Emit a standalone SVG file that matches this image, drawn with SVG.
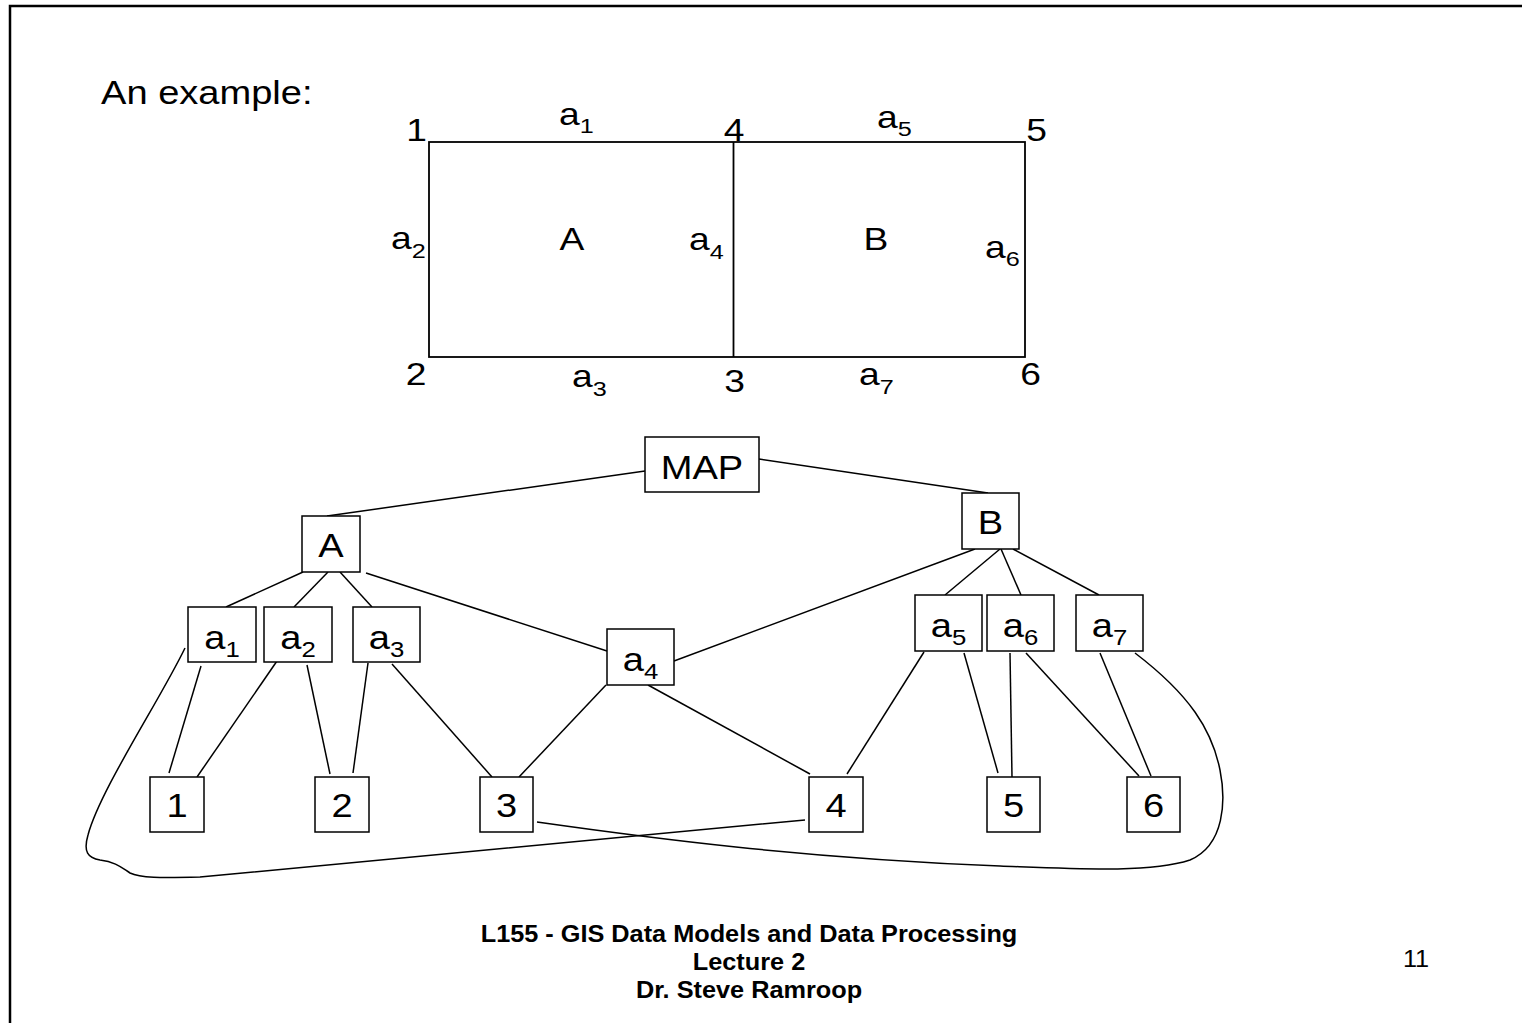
<svg xmlns="http://www.w3.org/2000/svg" width="1522" height="1023" viewBox="0 0 1522 1023">
<style>
.t{font-family:"Liberation Sans",Arial,sans-serif;font-size:34px;fill:#000}
.m{font-family:"Liberation Sans",Arial,sans-serif;font-size:31px;fill:#000}
.sub{font-size:23px}
.msub{font-size:21px}
.f{font-family:"Liberation Sans",Arial,sans-serif;font-size:23px;font-weight:bold;fill:#000}
.pg{font-family:"Liberation Sans",Arial,sans-serif;font-size:23px;fill:#000}
.box{fill:#fff;stroke:#000;stroke-width:1.5}
.ln{stroke:#000;stroke-width:1.5;fill:none}
.map{fill:none;stroke:#000;stroke-width:1.8}
</style>
<rect width="1522" height="1023" fill="#fff"/>
<path d="M10,1023 V6 H1522" fill="none" stroke="#000" stroke-width="2.5"/>

<text class="t" transform="translate(101,104) scale(1.12,1)">An example:</text>

<g id="map">
<rect class="map" x="429" y="142" width="596" height="215"/>
<line class="map" x1="733.5" y1="142" x2="733.5" y2="357"/>
<g text-anchor="middle">
<text class="m" transform="translate(416.5,141) scale(1.2,1)">1</text>
<text class="m" transform="translate(734,141) scale(1.2,1)">4</text>
<text class="m" transform="translate(1036.5,141) scale(1.2,1)">5</text>
<text class="m" transform="translate(416,385) scale(1.2,1)">2</text>
<text class="m" transform="translate(734.5,392) scale(1.2,1)">3</text>
<text class="m" transform="translate(1030.5,385) scale(1.2,1)">6</text>
<text class="m" transform="translate(572,250) scale(1.2,1)">A</text>
<text class="m" transform="translate(876,250) scale(1.2,1)">B</text>
</g>
<text class="m" transform="translate(559,125) scale(1.2,1)">a<tspan class="msub" dy="8">1</tspan></text>
<text class="m" transform="translate(877,128) scale(1.2,1)">a<tspan class="msub" dy="8">5</tspan></text>
<text class="m" transform="translate(391,249) scale(1.2,1)">a<tspan class="msub" dy="9">2</tspan></text>
<text class="m" transform="translate(689,250) scale(1.2,1)">a<tspan class="msub" dy="9">4</tspan></text>
<text class="m" transform="translate(985,258) scale(1.2,1)">a<tspan class="msub" dy="8">6</tspan></text>
<text class="m" transform="translate(572,387) scale(1.2,1)">a<tspan class="msub" dy="9">3</tspan></text>
<text class="m" transform="translate(859,385) scale(1.2,1)">a<tspan class="msub" dy="9">7</tspan></text>
</g>

<g id="connectors">
<line class="ln" x1="327" y1="516" x2="645" y2="471"/>
<line class="ln" x1="759" y1="459" x2="988" y2="493"/>
<line class="ln" x1="303" y1="572" x2="226" y2="607"/>
<line class="ln" x1="328" y1="572" x2="294" y2="607"/>
<line class="ln" x1="340" y1="572" x2="372" y2="607"/>
<line class="ln" x1="366" y1="573" x2="607" y2="651"/>
<line class="ln" x1="975" y1="549" x2="674" y2="661"/>
<line class="ln" x1="1000" y1="549" x2="945" y2="595"/>
<line class="ln" x1="1001" y1="549" x2="1021" y2="595"/>
<line class="ln" x1="1013" y1="549" x2="1099" y2="595"/>
<line class="ln" x1="201" y1="666" x2="169" y2="773"/>
<line class="ln" x1="277" y1="661" x2="197" y2="777"/>
<line class="ln" x1="307" y1="665" x2="330" y2="774"/>
<line class="ln" x1="368" y1="663" x2="353" y2="773"/>
<line class="ln" x1="392" y1="664" x2="492" y2="777"/>
<line class="ln" x1="606" y1="685" x2="519" y2="777"/>
<line class="ln" x1="648" y1="685" x2="810" y2="774"/>
<line class="ln" x1="924" y1="652" x2="847" y2="774"/>
<line class="ln" x1="964" y1="653" x2="998" y2="773"/>
<line class="ln" x1="1010" y1="653" x2="1012" y2="777"/>
<line class="ln" x1="1026" y1="653" x2="1139" y2="776"/>
<line class="ln" x1="1100" y1="653" x2="1151" y2="776"/>
<path class="ln" d="M185,648 C160,700 100,790 88,835 C83,852 88,858 100,860 C116,862 122,868 130,873 C140,878 160,878 200,877 L805,820"/>
<path class="ln" d="M537,822 C650,838 800,858 1000,866 C1080,869 1150,873 1190,860 C1225,845 1226,800 1220,770 C1212,730 1190,695 1135,653"/>
</g>

<g id="node-MAP"><rect class="box" x="645" y="437" width="114" height="55"/><text class="t" text-anchor="middle" transform="translate(702,479) scale(1.12,1)">MAP</text></g>
<g id="node-A"><rect class="box" x="302" y="516" width="58" height="56"/><text class="t" text-anchor="middle" transform="translate(331,557) scale(1.12,1)">A</text></g>
<g id="node-B"><rect class="box" x="962" y="493" width="57" height="56"/><text class="t" text-anchor="middle" transform="translate(990.5,534) scale(1.12,1)">B</text></g>
<g id="node-a1"><rect class="box" x="188" y="607" width="68" height="55"/><text class="t" text-anchor="middle" transform="translate(222,649) scale(1.12,1)">a<tspan class="sub" dy="8">1</tspan></text></g>
<g id="node-a2"><rect class="box" x="264" y="607" width="68" height="55"/><text class="t" text-anchor="middle" transform="translate(298,649) scale(1.12,1)">a<tspan class="sub" dy="8">2</tspan></text></g>
<g id="node-a3"><rect class="box" x="353" y="607" width="67" height="55"/><text class="t" text-anchor="middle" transform="translate(386.5,649) scale(1.12,1)">a<tspan class="sub" dy="8">3</tspan></text></g>
<g id="node-a4"><rect class="box" x="607" y="629" width="67" height="56"/><text class="t" text-anchor="middle" transform="translate(640.5,671) scale(1.12,1)">a<tspan class="sub" dy="8">4</tspan></text></g>
<g id="node-a5"><rect class="box" x="915" y="595" width="67" height="56"/><text class="t" text-anchor="middle" transform="translate(948.5,637) scale(1.12,1)">a<tspan class="sub" dy="8">5</tspan></text></g>
<g id="node-a6"><rect class="box" x="987" y="595" width="67" height="56"/><text class="t" text-anchor="middle" transform="translate(1020.5,637) scale(1.12,1)">a<tspan class="sub" dy="8">6</tspan></text></g>
<g id="node-a7"><rect class="box" x="1076" y="595" width="67" height="56"/><text class="t" text-anchor="middle" transform="translate(1109.5,637) scale(1.12,1)">a<tspan class="sub" dy="8">7</tspan></text></g>
<g id="node-1"><rect class="box" x="150" y="777" width="54" height="55"/><text class="t" text-anchor="middle" transform="translate(177,817) scale(1.12,1)">1</text></g>
<g id="node-2"><rect class="box" x="315" y="777" width="54" height="55"/><text class="t" text-anchor="middle" transform="translate(342,817) scale(1.12,1)">2</text></g>
<g id="node-3"><rect class="box" x="480" y="777" width="53" height="55"/><text class="t" text-anchor="middle" transform="translate(506.5,817) scale(1.12,1)">3</text></g>
<g id="node-4"><rect class="box" x="809" y="777" width="54" height="55"/><text class="t" text-anchor="middle" transform="translate(836,817) scale(1.12,1)">4</text></g>
<g id="node-5"><rect class="box" x="987" y="777" width="53" height="55"/><text class="t" text-anchor="middle" transform="translate(1013.5,817) scale(1.12,1)">5</text></g>
<g id="node-6"><rect class="box" x="1127" y="777" width="53" height="55"/><text class="t" text-anchor="middle" transform="translate(1153.5,817) scale(1.12,1)">6</text></g>

<g id="footer" text-anchor="middle">
<text class="f" transform="translate(749,942) scale(1.1,1)">L155 - GIS Data Models and Data Processing</text>
<text class="f" transform="translate(749,970) scale(1.1,1)">Lecture 2</text>
<text class="f" transform="translate(749,998) scale(1.1,1)">Dr. Steve Ramroop</text>
<text class="pg" transform="translate(1416,967) scale(1.1,1)">11</text>
</g>
</svg>
